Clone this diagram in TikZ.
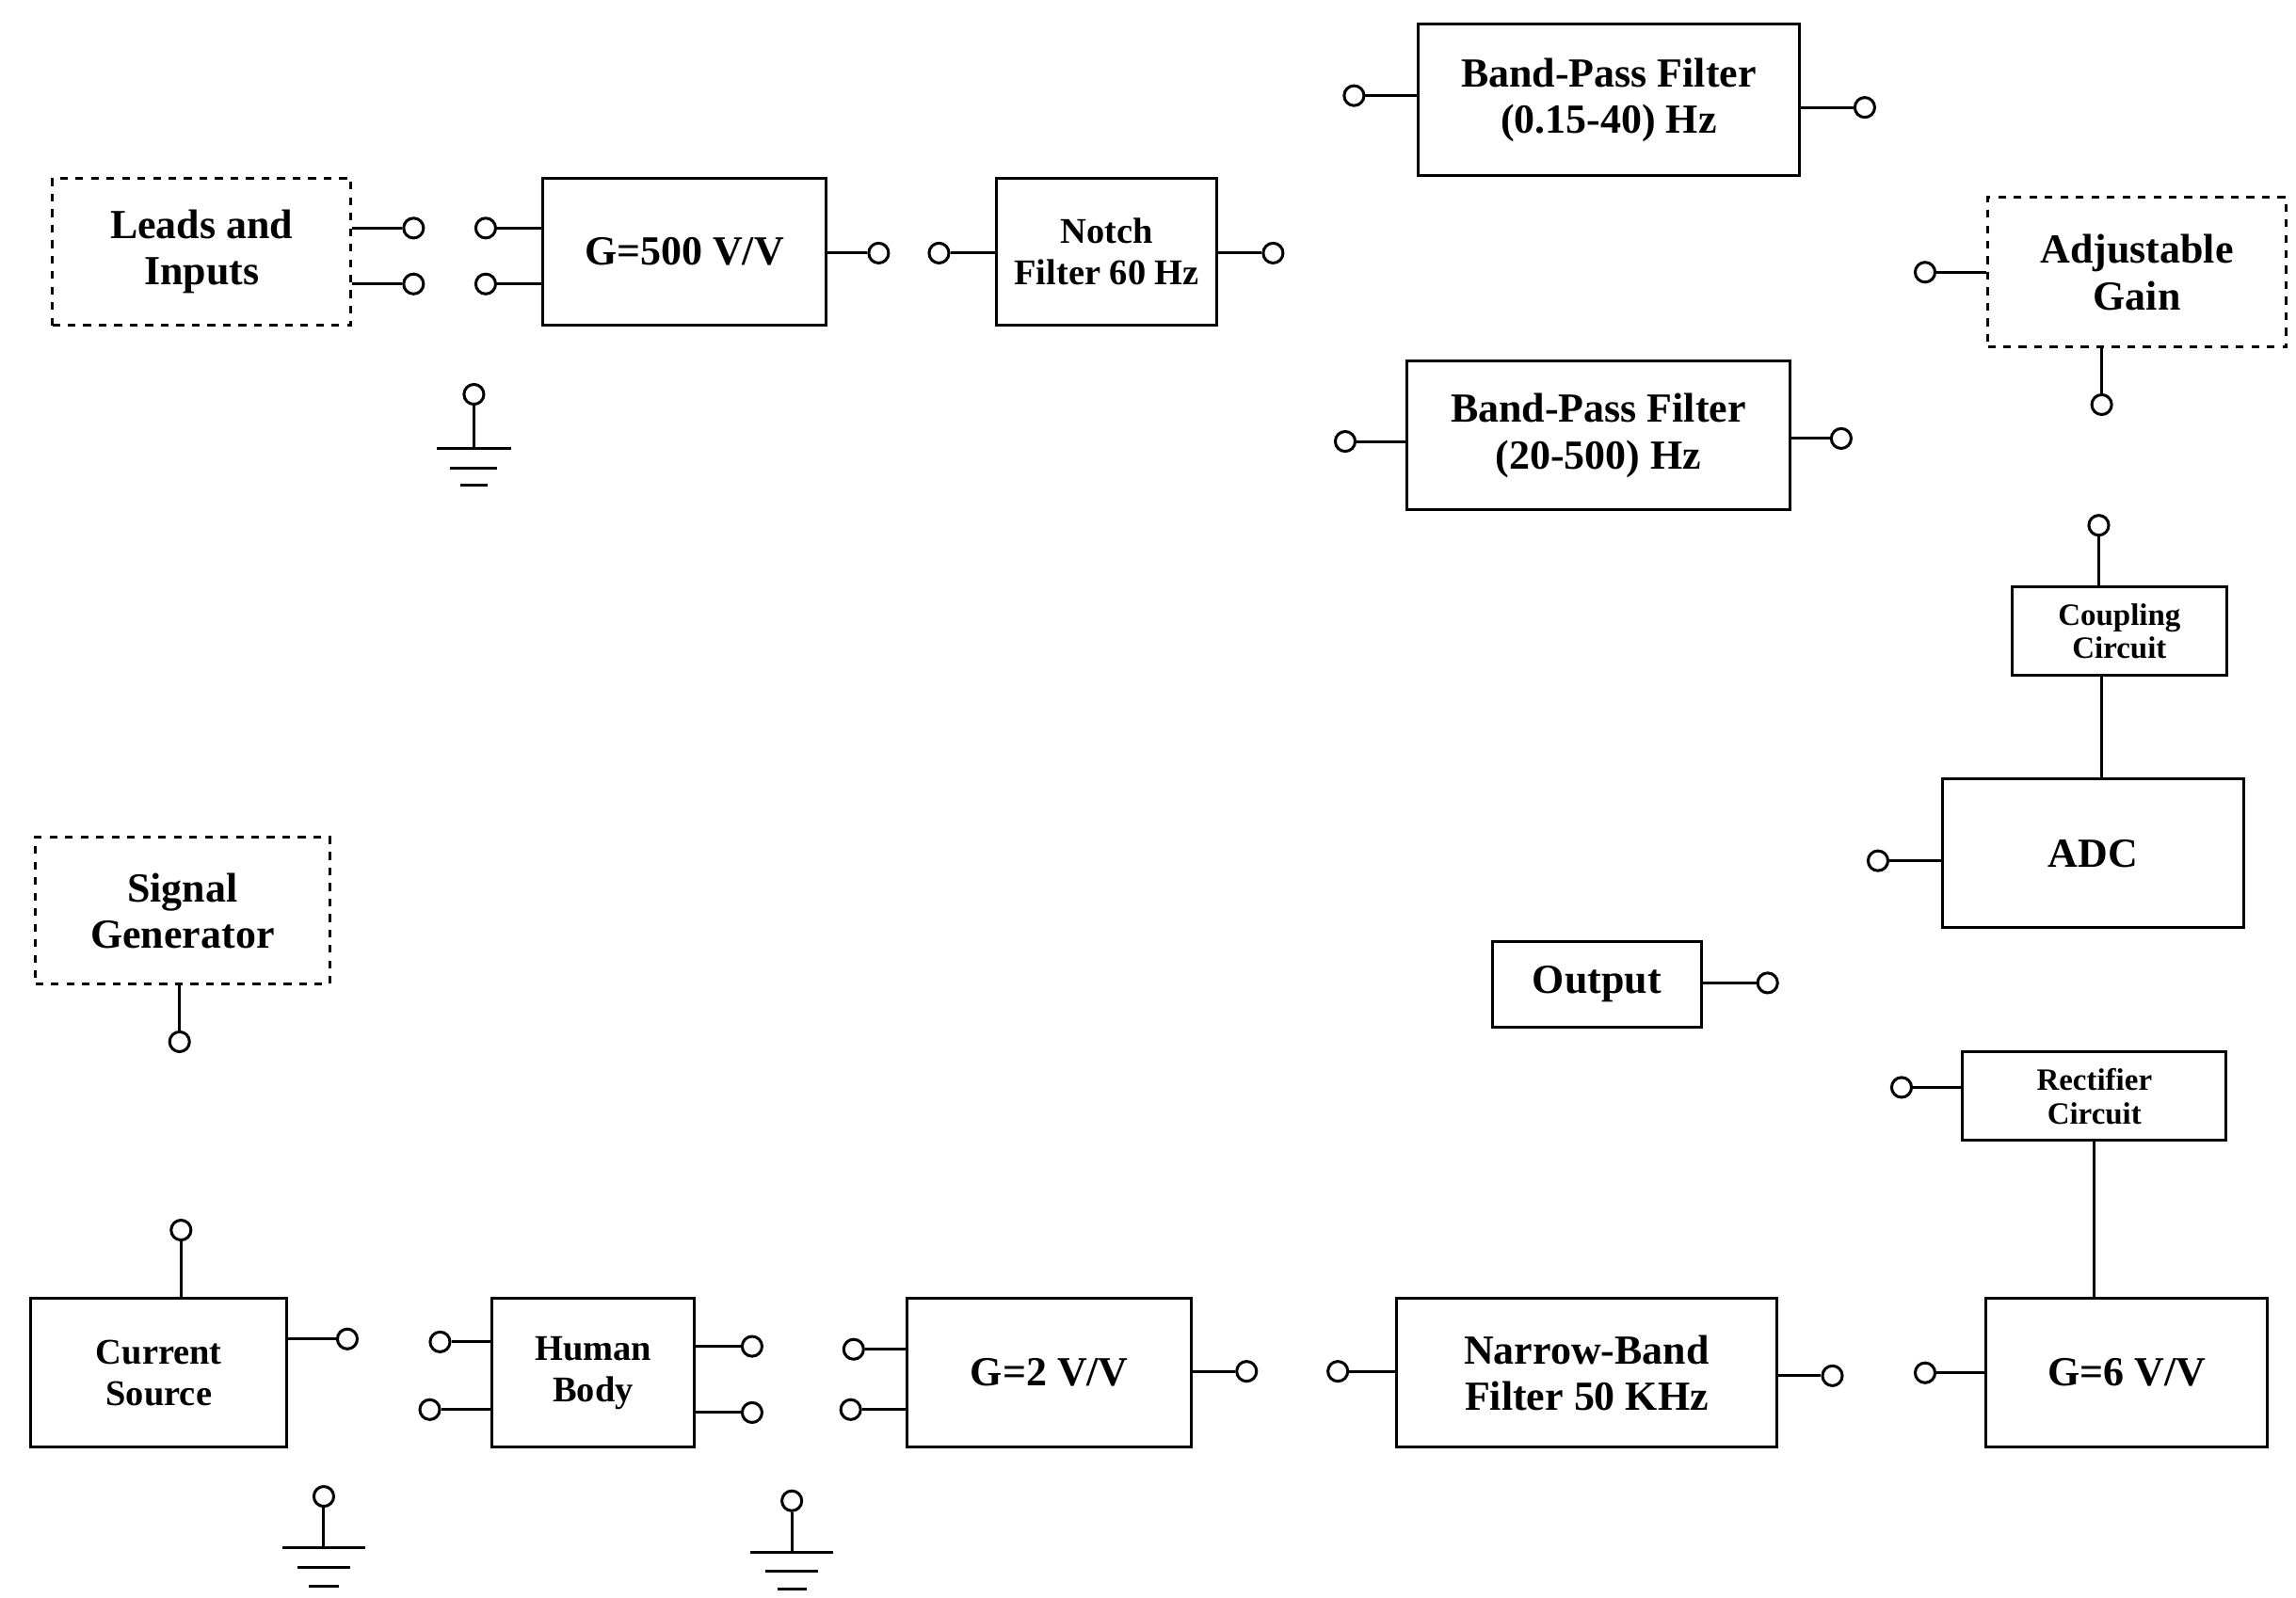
\documentclass[tikz,border=0pt]{standalone}
\usepackage{fontspec}
\setmainfont{Liberation Serif}
\usetikzlibrary{positioning}
\begin{document}
\begin{tikzpicture}[x=0.02cm, y=-0.02cm, line width=1.1pt, font=\bfseries\fontsize{16}{18}\selectfont]
%% styles
\tikzstyle{blk}=[draw, rectangle, align=center, inner sep=0pt]
\tikzstyle{dblk}=[blk, dashed]
\tikzstyle{term}=[draw, circle, minimum size=0.27cm, inner sep=0pt, fill=white]
\tikzstyle{small}=[font=\bfseries\fontsize{12}{13}\selectfont]
\tikzstyle{mid}=[font=\bfseries\fontsize{14}{16}\selectfont]
\useasboundingbox (0,0) rectangle (1560,1086);
%% upper chain
\node[dblk, minimum width=4.06cm, minimum height=2.0cm] at (137,171) (Leads) {Leads and\\Inputs};
\node[term] at (281,155) (LeadsA) {};
\node[term] at (281,193) (LeadsB) {};
\draw (LeadsA) -- (LeadsA -| Leads.east);
\draw (LeadsB) -- (LeadsB -| Leads.east);
\node[blk, minimum width=3.86cm, minimum height=2.0cm] at (465,171) (GainA) {G=500 V/V};
\node[term] at (330,155) (GainAinA) {};
\node[term] at (330,193) (GainAinB) {};
\node[term] at (597,172) (GainAout) {};
\draw (GainAinA) -- (GainAinA -| GainA.west);
\draw (GainAinB) -- (GainAinB -| GainA.west);
\draw (GainAout) -- (GainAout -| GainA.east);
\node[blk, mid, minimum width=3.0cm, minimum height=2.0cm] at (752,171) (Notch) {Notch\\Filter 60 Hz};
\node[term] at (638,172) (NotchIn) {};
\node[term] at (865,172) (NotchOut) {};
\draw (NotchIn) -- (NotchIn -| Notch.west);
\draw (NotchOut) -- (NotchOut -| Notch.east);
%% ground of upper chain
\node[term] at (322,268) (GndA) {};
\coordinate (GndAbase) at (322,305);
\draw (GndA) -- (GndAbase);
\draw (297,305) -- (347,305) (306,318) -- (338,318) (313,330) -- (331,330);
%% filters
\node[blk, minimum width=5.18cm, minimum height=2.06cm] at (1093,68) (BPFa) {Band-Pass Filter\\(0.15-40) Hz};
\node[term] at (920,65) (BPFaIn) {};
\node[term] at (1267,73) (BPFaOut) {};
\draw (BPFaIn) -- (BPFaIn -| BPFa.west);
\draw (BPFaOut) -- (BPFaOut -| BPFa.east);
\node[blk, minimum width=5.2cm, minimum height=2.02cm] at (1086,296) (BPFb) {Band-Pass Filter\\(20-500) Hz};
\node[term] at (914,300) (BPFbIn) {};
\node[term] at (1251,298) (BPFbOut) {};
\draw (BPFbIn) -- (BPFbIn -| BPFb.west);
\draw (BPFbOut) -- (BPFbOut -| BPFb.east);
%% right column
\node[dblk, minimum width=4.06cm, minimum height=2.04cm] at (1452,185) (AdjGain) {Adjustable\\Gain};
\node[term] at (1308,185) (AdjIn) {};
\node[term] at (1428,275) (AdjOut) {};
\draw (AdjIn) -- (AdjIn -| AdjGain.west);
\draw (AdjOut) -- (AdjOut |- AdjGain.south);
\node[blk, small, minimum width=2.92cm, minimum height=1.2cm] at (1440,429) (Coupling) {Coupling\\Circuit};
\node[term] at (1426,357) (CoupIn) {};
\draw (CoupIn) -- (CoupIn |- Coupling.north);
\node[blk, minimum width=4.1cm, minimum height=2.02cm] at (1422,580) (ADC) {ADC};
\node[term] at (1276,585) (ADCin) {};
\draw (ADCin) -- (ADCin -| ADC.west);
\draw (1428,460) -- (ADC.north -| 1428,0);
\node[blk, minimum width=2.84cm, minimum height=1.16cm] at (1085,669) (Output) {Output};
\node[term] at (1201,668) (OutTerm) {};
\draw (OutTerm) -- (OutTerm -| Output.east);
\node[blk, small, minimum width=3.58cm, minimum height=1.2cm] at (1423,745) (Rect) {Rectifier\\Circuit};
\node[term] at (1292,739) (RectIn) {};
\draw (RectIn) -- (RectIn -| Rect.west);
%% lower chain
\node[blk, minimum width=3.82cm, minimum height=2.02cm] at (1445,933) (GainC) {G=6 V/V};
\node[term] at (1308,933) (GainCin) {};
\draw (GainCin) -- (GainCin -| GainC.west);
\draw (Rect.south) -- (GainC.north -| Rect.south);
\node[blk, minimum width=5.16cm, minimum height=2.02cm] at (1078,933) (NBF) {Narrow-Band\\Filter 50 KHz};
\node[term] at (909,932) (NBFin) {};
\node[term] at (1245,935) (NBFout) {};
\draw (NBFin) -- (NBFin -| NBF.west);
\draw (NBFout) -- (NBFout -| NBF.east);
\node[blk, minimum width=3.86cm, minimum height=2.02cm] at (713,933) (GainB) {G=2 V/V};
\node[term] at (580,917) (GainBinA) {};
\node[term] at (578,958) (GainBinB) {};
\node[term] at (847,932) (GainBout) {};
\draw (GainBinA) -- (GainBinA -| GainB.west);
\draw (GainBinB) -- (GainBinB -| GainB.west);
\draw (GainBout) -- (GainBout -| GainB.east);
\node[blk, mid, minimum width=2.76cm, minimum height=2.02cm] at (403,933) (Body) {Human\\Body};
\node[term] at (299,912) (BodyInA) {};
\node[term] at (292,958) (BodyInB) {};
\node[term] at (511,915) (BodyOutA) {};
\node[term] at (511,960) (BodyOutB) {};
\draw (BodyInA) -- (BodyInA -| Body.west);
\draw (BodyInB) -- (BodyInB -| Body.west);
\draw (BodyOutA) -- (BodyOutA -| Body.east);
\draw (BodyOutB) -- (BodyOutB -| Body.east);
\node[blk, mid, minimum width=3.48cm, minimum height=2.02cm] at (108,933) (Source) {Current\\Source};
\node[term] at (236,910) (SrcOut) {};
\node[term] at (123,836) (SrcIn) {};
\draw (SrcOut) -- (SrcOut -| Source.east);
\draw (SrcIn) -- (SrcIn |- Source.north);
\node[dblk, minimum width=4.0cm, minimum height=2.0cm] at (124,619) (SigGen) {Signal\\Generator};
\node[term] at (122,708) (SigOut) {};
\draw (SigOut) -- (SigOut |- SigGen.south);
%% grounds of lower chain
\node[term] at (220,1017) (GndB) {};
\coordinate (GndBbase) at (220,1052);
\draw (GndB) -- (GndBbase);
\draw (192,1052) -- (248,1052) (202,1065) -- (238,1065) (210,1078) -- (230,1078);
\node[term] at (538,1020) (GndC) {};
\coordinate (GndCbase) at (538,1055);
\draw (GndC) -- (GndCbase);
\draw (510,1055) -- (566,1055) (520,1068) -- (556,1068) (528,1080) -- (548,1080);
\end{tikzpicture}
\end{document}
